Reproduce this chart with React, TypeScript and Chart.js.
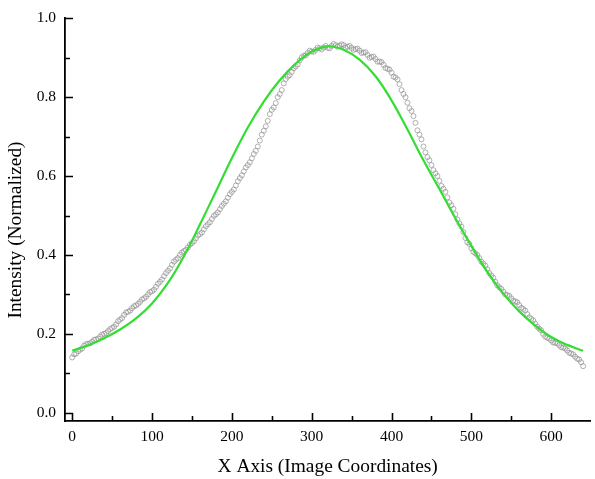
import React, { useEffect, useRef } from "react";
import { Chart, registerables } from "chart.js";

Chart.register(...registerables);

// Measured intensity (gray hollow circles), sampled every 5 image-x units from 0 to 640
const measuredStart = 0;
const measuredStep = 5;
const measuredValues = [
  0.140, 0.150, 0.160, 0.170, 0.175, 0.180, 0.186, 0.193, 0.200, 0.207,
  0.215, 0.224, 0.236, 0.248, 0.256, 0.265, 0.272, 0.281, 0.290, 0.300,
  0.308, 0.319, 0.332, 0.346, 0.360, 0.375, 0.388, 0.400, 0.410, 0.419,
  0.430, 0.442, 0.453, 0.465, 0.478, 0.491, 0.503, 0.516, 0.530, 0.545,
  0.560, 0.576, 0.595, 0.612, 0.628, 0.645, 0.664, 0.690, 0.715, 0.740,
  0.768, 0.785, 0.808, 0.835, 0.852, 0.864, 0.878, 0.893, 0.905, 0.912,
  0.916, 0.920, 0.924, 0.926, 0.925, 0.930, 0.932, 0.931, 0.932, 0.928,
  0.925, 0.922, 0.918, 0.913, 0.907, 0.902, 0.897, 0.890, 0.882, 0.872,
  0.862, 0.850, 0.833, 0.808, 0.786, 0.765, 0.735, 0.705, 0.675, 0.648,
  0.628, 0.607, 0.588, 0.568, 0.546, 0.526, 0.503, 0.480, 0.458, 0.432,
  0.417, 0.404, 0.392, 0.378, 0.364, 0.348, 0.332, 0.318, 0.307, 0.298,
  0.290, 0.282, 0.273, 0.263, 0.250, 0.238, 0.226, 0.213, 0.200, 0.190,
  0.183, 0.177, 0.171, 0.165, 0.158, 0.150, 0.142, 0.135, 0.118,
];
// In-between samples (x = 2.5, 7.5, ... 637.5)
const measuredStartB = 2.5;
const measuredValuesB = [
  0.148, 0.156, 0.163, 0.174, 0.176, 0.185, 0.188, 0.198, 0.202, 0.212,
  0.218, 0.232, 0.240, 0.254, 0.259, 0.270, 0.276, 0.287, 0.294, 0.306,
  0.312, 0.327, 0.338, 0.354, 0.366, 0.383, 0.392, 0.406, 0.413, 0.426,
  0.435, 0.449, 0.457, 0.473, 0.483, 0.499, 0.508, 0.524, 0.536, 0.554,
  0.566, 0.587, 0.602, 0.622, 0.635, 0.656, 0.675, 0.705, 0.726, 0.757,
  0.774, 0.800, 0.818, 0.846, 0.856, 0.873, 0.883, 0.901, 0.906, 0.918,
  0.915, 0.926, 0.921, 0.930, 0.924, 0.935, 0.928, 0.934, 0.926, 0.930,
  0.920, 0.923, 0.912, 0.914, 0.900, 0.903, 0.890, 0.889, 0.874, 0.870,
  0.852, 0.845, 0.818, 0.800, 0.772, 0.752, 0.716, 0.693, 0.660, 0.640,
  0.615, 0.600, 0.575, 0.560, 0.533, 0.517, 0.490, 0.472, 0.443, 0.428,
  0.408, 0.400, 0.383, 0.373, 0.354, 0.342, 0.323, 0.314, 0.300, 0.296,
  0.284, 0.280, 0.266, 0.259, 0.242, 0.234, 0.218, 0.209, 0.193, 0.188,
  0.178, 0.176, 0.166, 0.163, 0.152, 0.148, 0.137, 0.128,
];

// Gaussian fit (green line), read every 20 units
const fitX = [
  0, 20, 40, 60, 80, 100, 120, 140, 160, 180, 200, 220, 240, 260, 280, 300,
  320, 340, 360, 380, 400, 420, 440, 460, 480, 500, 520, 540, 560, 580, 600,
  620, 640,
];
const fitValues = [
  0.157, 0.171, 0.189, 0.211, 0.239, 0.277, 0.329, 0.397, 0.477, 0.561,
  0.645, 0.723, 0.789, 0.843, 0.885, 0.915, 0.929, 0.920, 0.895, 0.853,
  0.792, 0.718, 0.640, 0.567, 0.493, 0.423, 0.357, 0.302, 0.257, 0.221,
  0.192, 0.172, 0.157,
];

const xMajorTicks = [0, 100, 200, 300, 400, 500, 600];
const xMinorTicks = [50, 150, 250, 350, 450, 550];
const yMajorTicks = [0.0, 0.2, 0.4, 0.6, 0.8, 1.0];
const yMinorTicks = [0.1, 0.3, 0.5, 0.7, 0.9];

const xTitle = "X Axis (Image Coordinates)";
const yTitle = "Intensity (Normalized)";

const FONT = "'Liberation Serif', 'Times New Roman', serif";

const inwardTicks = {
  id: "inwardTicks",
  afterDraw(chart: any) {
    const { ctx, chartArea } = chart;
    const xs = chart.scales.x;
    const ys = chart.scales.y;
    ctx.save();
    ctx.strokeStyle = "#000";
    ctx.lineWidth = 1.6;
    ctx.beginPath();
    const draw = (vals: number[], len: number, axis: "x" | "y") => {
      vals.forEach((v) => {
        if (axis === "x") {
          const px = Math.round(xs.getPixelForValue(v)) + 0.5;
          ctx.moveTo(px, chartArea.bottom);
          ctx.lineTo(px, chartArea.bottom - len);
        } else {
          const py = Math.round(ys.getPixelForValue(v)) + 0.5;
          ctx.moveTo(chartArea.left, py);
          ctx.lineTo(chartArea.left + len, py);
        }
      });
    };
    draw(xMajorTicks, 8, "x");
    draw(xMinorTicks, 5, "x");
    draw(yMajorTicks, 8, "y");
    draw(yMinorTicks, 5, "y");
    ctx.stroke();

    // y-axis title
    ctx.translate(16, 230);
    ctx.rotate(-Math.PI / 2);
    ctx.fillStyle = "#000";
    ctx.textAlign = "center";
    ctx.textBaseline = "middle";
    ctx.font = `19.4px ${FONT}`;
    ctx.fillText(yTitle, 0, 0);
    ctx.restore();
  },
};

export default function App() {
  const ref = useRef<HTMLCanvasElement | null>(null);

  useEffect(() => {
    document.body.style.margin = "0";
    if (!ref.current) return;
    const measured = measuredValues
      .map((v, i) => ({ x: measuredStart + i * measuredStep, y: v }))
      .concat(measuredValuesB.map((v, i) => ({ x: measuredStartB + i * measuredStep, y: v })));
    const fit = fitValues.map((v, i) => ({ x: fitX[i], y: v }));

    const chart = new Chart(ref.current, {
      type: "scatter",
      data: {
        datasets: [
          {
            label: "Fit",
            data: fit,
            showLine: true,
            borderColor: "#33dd33",
            borderWidth: 2.2,
            pointRadius: 0,
            tension: 0.4,
            fill: false,
          } as any,
          {
            label: "Data",
            data: measured,
            pointRadius: 2.5,
            pointBorderWidth: 0.7,
            pointBorderColor: "#8f8f8f",
            pointBackgroundColor: "rgba(255,255,255,0)",
            showLine: false,
          },
        ],
      },
      options: {
        animation: false,
        responsive: false,
        maintainAspectRatio: false,
        layout: { padding: { top: 15, right: 2, left: 0, bottom: 0 } },
        plugins: {
          legend: { display: false },
          tooltip: { enabled: false },
        },
        scales: {
          x: {
            type: "linear",
            min: -9,
            max: 649,
            afterBuildTicks: (s: any) => {
              s.ticks = xMajorTicks.map((v) => ({ value: v }));
            },
            afterFit: (s: any) => {
              s.height = 58;
            },
            grid: { display: true, drawOnChartArea: false, drawTicks: false },
            border: { display: true, color: "#000", width: 1.8 },
            ticks: {
              color: "#000",
              padding: 7,
              maxRotation: 0,
              font: { family: FONT, size: 15.5 },
              callback: (v: any) => String(v),
            },
            title: {
              display: true,
              text: xTitle,
              color: "#000",
              font: { family: FONT, size: 19.4 },
              padding: { top: 2, bottom: 0 },
            },
          },
          y: {
            type: "linear",
            min: -0.021,
            max: 1.0,
            afterBuildTicks: (s: any) => {
              s.ticks = yMajorTicks.map((v) => ({ value: v }));
            },
            afterFit: (s: any) => {
              s.width = 65;
            },
            grid: { display: true, drawOnChartArea: false, drawTicks: false },
            border: { display: true, color: "#000", width: 1.8 },
            ticks: {
              color: "#000",
              padding: 9,
              font: { family: FONT, size: 15.5 },
              callback: (v: any) => Number(v).toFixed(1),
            },
            title: { display: false },
          },
        },
      },
      plugins: [inwardTicks],
    });
    return () => chart.destroy();
  }, []);

  return (
    <div style={{ position: "absolute", left: 0, top: 0, width: 595, height: 479, background: "#fff" }}>
      <canvas ref={ref} width={595} height={479} style={{ width: 595, height: 479 }} />
    </div>
  );
}
